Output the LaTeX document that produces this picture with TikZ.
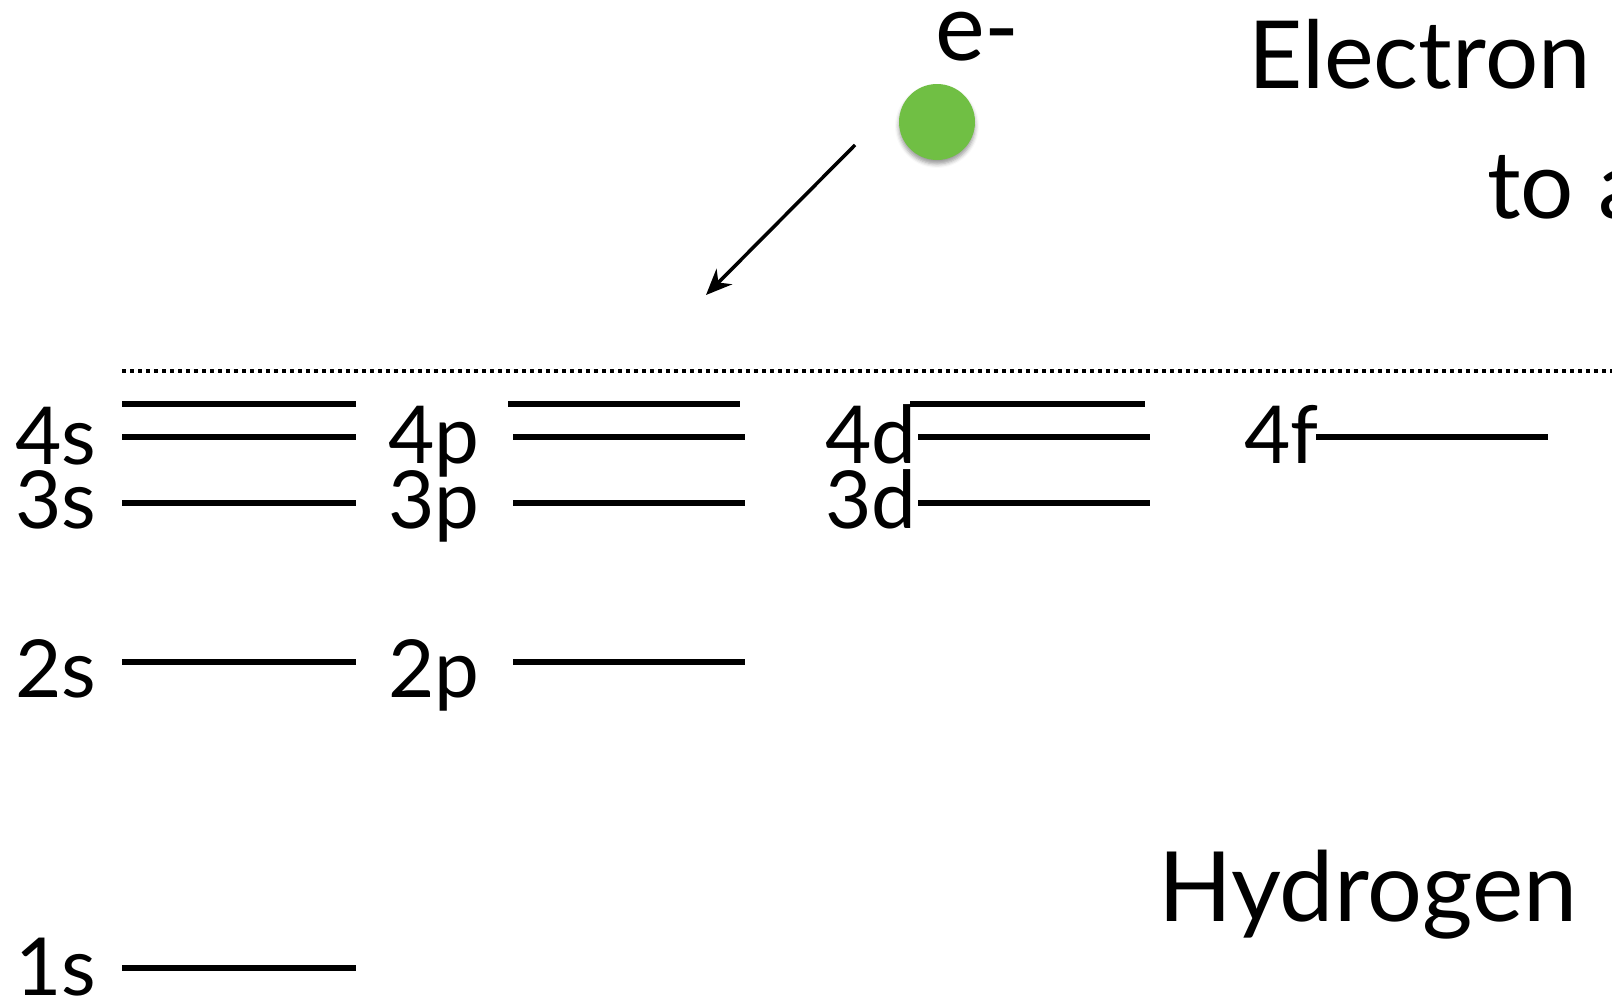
\documentclass[tikz,border=0pt]{standalone}
\usepackage{fontspec}
\setmainfont{Lato}
\usepackage{tikz}
\usetikzlibrary{arrows.meta, shadows.blur}
\definecolor{egreen}{HTML}{70BF44}

\begin{document}
\begin{tikzpicture}[
    x=1pt, y=-1pt,
    lvl/.style={line width=5.5pt},
    lbl/.style={anchor=base west, inner sep=0pt, font=\fontsize{80}{90}\selectfont},
    big/.style={anchor=base west, inner sep=0pt, font=\fontsize{94}{104}\selectfont},
    arr/.style={-{Stealth[length=26pt, width=22pt]}, line width=3.5pt}
]
\useasboundingbox (0,0) rectangle (1612,1001);
\clip (0,0) rectangle (1612,1001);

% ionisation limit
\draw[line width=4.5pt, dash pattern=on 4pt off 4pt] (122,371) -- (1612,371);

% s levels
\foreach \y in {404,437,503,662,968}
    \draw[lvl] (122,\y) -- (356,\y);
% p levels
\draw[lvl] (508,404) -- (740,404);
\foreach \y in {437,503,662}
    \draw[lvl] (513,\y) -- (745,\y);
% d levels
\draw[lvl] (910,404) -- (1145,404);
\foreach \y in {437,503}
    \draw[lvl] (918,\y) -- (1150,\y);
% f level
\draw[lvl] (1316,437) -- (1548,437);

\node[lbl] (l4s) at (15,464) {4s};
\node[lbl] (l3s) at (15,528) {3s};
\node[lbl] (l2s) at (15,697) {2s};
\node[lbl] (l1s) at (15,995) {1s};
\node[lbl] (l4p) at (388,463) {4p};
\node[lbl] (l3p) at (388,528) {3p};
\node[lbl] (l2p) at (388,697) {2p};
\node[lbl] (l4d) at (825,463) {4d};
\node[lbl] (l3d) at (825,528) {3d};
\node[lbl] (l4f) at (1244,463) {4f};

% incoming electron
\node[circle, fill=egreen, minimum size=76pt, inner sep=0pt,
      blur shadow={shadow xshift=0pt, shadow yshift=-4pt, shadow blur radius=4pt, shadow opacity=40}] (elec) at (937,122) {};
\node[big] (eminus) at (935,60) {e-};
\coordinate (tail) at (855,145);
\coordinate (head) at (706,295);
\draw[arr] (tail) -- (head);

\node[big] (title1) at (1248,88) {Electron};
\node[big] (title2) at (1487,218) {to a};
\node[big, font=\fontsize{97}{107}\selectfont] (hyd) at (1158,921) {Hydrogen};
\end{tikzpicture}
\end{document}
